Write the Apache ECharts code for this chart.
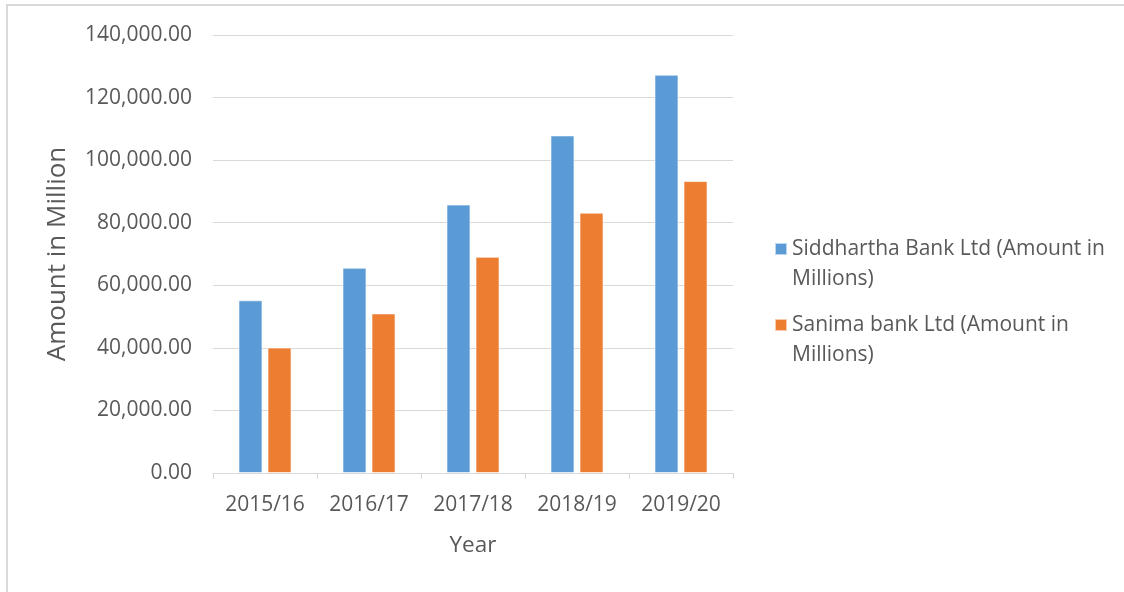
<!DOCTYPE html>
<html>
<head>
<meta charset="utf-8">
<script src="https://cdn.jsdelivr.net/npm/echarts@6/dist/echarts.min.js"></script>
<style>
html,body{margin:0;padding:0;background:#fff;}
#chart{width:1124px;height:592px;}
</style>
</head>
<body>
<div id="chart"></div>
<script>
var categories = ['2015/16', '2016/17', '2017/18', '2018/19', '2019/20'];
var siddharthaName = 'Siddhartha Bank Ltd (Amount in Millions)';
var sanimaName = 'Sanima bank Ltd (Amount in Millions)';
var siddhartha = [55200, 65600, 85800, 107900, 127300];
var sanima = [40100, 51000, 69100, 83200, 93300];
var yAxisTitle = 'Amount in Million';
var xAxisTitle = 'Year';

var font = '"Open Sans", sans-serif';
var textGray = '#595959';
var gridGray = '#D9D9D9';

function fmt(v) {
  var s = Math.round(v).toString().replace(/\B(?=(\d{3})+(?!\d))/g, ',');
  return s + '.00';
}

var chart = echarts.init(document.getElementById('chart'));
chart.setOption({
  backgroundColor: '#fff',
  animation: false,
  graphic: [{
    type: 'rect',
    shape: {x: 7, y: 5, width: 1300, height: 800},
    style: {fill: 'none', stroke: '#D9D9D9', lineWidth: 2},
    silent: true
  }],
  grid: {left: 213, right: 391, top: 35, bottom: 119, containLabel: false},
  legend: {
    orient: 'vertical',
    left: 774,
    top: 204,
    padding: 0,
    itemWidth: 12,
    itemHeight: 12,
    itemGap: -14,
    icon: 'rect',
    data: [siddharthaName, sanimaName],
    formatter: function (n) { return '\n' + n.replace(' Millions', '\nMillions'); },
    textStyle: {fontFamily: font, fontSize: 21, color: textGray, lineHeight: 30}
  },
  xAxis: {
    type: 'category',
    data: categories,
    name: xAxisTitle,
    nameLocation: 'middle',
    nameGap: 61,
    nameTextStyle: {fontFamily: font, fontSize: 22.5, color: textGray},
    axisLine: {lineStyle: {color: gridGray, width: 1}},
    axisTick: {show: true, length: 6, lineStyle: {color: gridGray}},
    axisLabel: {fontFamily: font, fontSize: 21, color: textGray, margin: 22}
  },
  yAxis: {
    type: 'value',
    min: 0,
    max: 140000,
    interval: 20000,
    name: yAxisTitle,
    nameLocation: 'middle',
    nameGap: 142,
    nameRotate: 90,
    nameTextStyle: {fontFamily: font, fontSize: 26, color: textGray},
    axisLine: {show: false},
    axisTick: {show: false},
    splitLine: {lineStyle: {color: gridGray, width: 1}},
    axisLabel: {fontFamily: font, fontSize: 21, color: textGray, margin: 21, formatter: fmt}
  },
  series: [{
    name: siddharthaName,
    type: 'bar',
    data: siddhartha,
    barWidth: 24,
    barGap: '21%',
    itemStyle: {color: '#5B9BD5', borderColor: 'rgba(255,255,255,0.6)', borderWidth: 1}
  }, {
    name: sanimaName,
    type: 'bar',
    data: sanima,
    barWidth: 24,
    barGap: '21%',
    itemStyle: {color: '#ED7D31', borderColor: 'rgba(255,255,255,0.6)', borderWidth: 1}
  }]
});
</script>
</body>
</html>
